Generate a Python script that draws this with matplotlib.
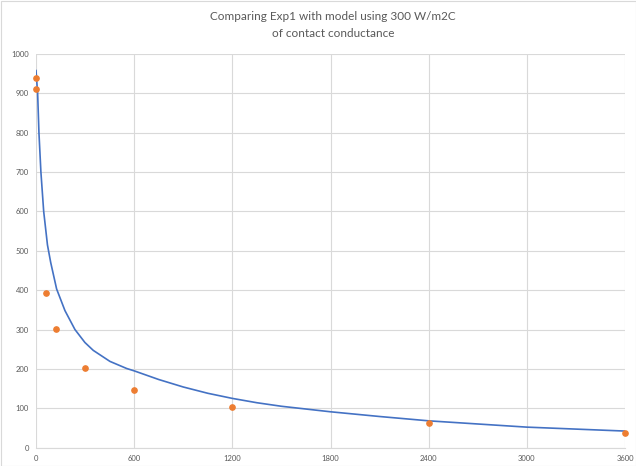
import matplotlib
matplotlib.use("Agg")
import matplotlib.pyplot as plt
from matplotlib.patches import Rectangle

# Experimental data (Exp1)
exp_time = [0, 0, 60, 120, 300, 600, 1200, 2400, 3600]
exp_temp = [940, 911, 393, 301, 202, 147, 104, 63, 38]

# Model curve (300 W/m2C contact conductance)
model_time = [0, 10, 18, 30, 47, 70, 90, 126, 177, 238, 299, 350, 452, 554, 600, 750,
              900, 1050, 1200, 1350, 1500, 1650, 1800, 2100, 2400, 2700, 3000, 3300, 3600]
model_temp = [958, 900, 800, 700, 600, 515, 470, 403, 348, 300, 267, 247, 219, 201, 195, 173,
              154, 138, 125, 114, 105, 98, 91, 79, 68, 60, 52, 47, 42]

x_ticks = [0, 600, 1200, 1800, 2400, 3000, 3600]
y_ticks = list(range(0, 1001, 100))

title = "Comparing Exp1 with model using 300 W/m2C\nof contact conductance"

plt.rcParams['font.family'] = ['Lato', 'DejaVu Sans']

fig = plt.figure(figsize=(6.36, 4.66), dpi=100)
ax = fig.add_axes([36/636, 18.4/466, 589/636, 393.6/466])

ax.plot(model_time, model_temp, color='#4472C4', lw=1.2, zorder=3,
        solid_joinstyle='round')
ax.plot(exp_time, exp_temp, 'o', color='#ED7D31', ms=3.8, mec='#ED7D31', zorder=4, clip_on=False)

ax.set_xlim(0, 3600)
ax.set_ylim(0, 1000)
ax.set_xticks(x_ticks)
ax.set_yticks(y_ticks)
ax.grid(True, color='#D9D9D9', lw=0.8)
ax.set_axisbelow(True)
for s in ['top', 'right', 'left']:
    ax.spines[s].set_visible(False)
ax.spines['bottom'].set_color('#D9D9D9')
ax.spines['bottom'].set_linewidth(0.8)
ax.tick_params(length=0, labelsize=5.5, colors='#595959', pad=5)

fig.text(333/636, 1 - 25/466, title, ha='center', va='center', fontsize=8.5,
         color='#595959', linespacing=1.6)

fig.patches.append(Rectangle((0.5/636, 0.5/466), 635/636, 465/466, transform=fig.transFigure,
                             fill=False, edgecolor='#D9D9D9', lw=0.8))

fig.savefig('out.png', dpi=100)
